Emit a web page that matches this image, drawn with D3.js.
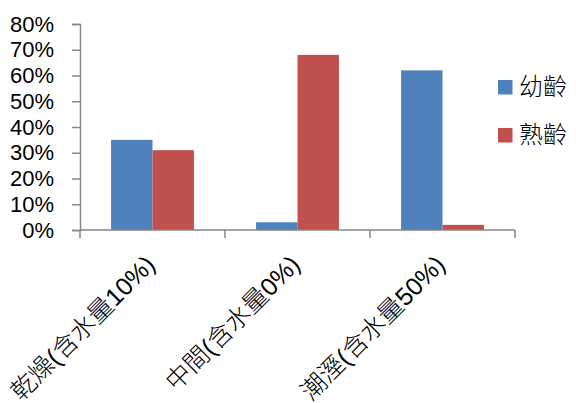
<!DOCTYPE html>
<html>
<head>
<meta charset="utf-8">
<script src="https://cdn.jsdelivr.net/npm/d3@7"></script>
<style>
  html, body { margin: 0; padding: 0; background: #fff; }
  svg { display: block; }
</style>
</head>
<body>
<svg id="chart" width="576" height="403"></svg>
<script>
// Moisture conditions and the share of each life stage found there
const categories = ["乾燥(含水量10%)", "中間(含水量0%)", "潮溼(含水量50%)"];
const seriesNames = ["幼齡", "熟齡"];
const juvenile = [0.35, 0.03, 0.62];
const mature = [0.31, 0.68, 0.02];
const yTicks = [0, 0.1, 0.2, 0.3, 0.4, 0.5, 0.6, 0.7, 0.8];
const colors = ["#4F81BD", "#C0504D"];

const svg = d3.select("#chart");
const plot = { left: 80, right: 515, top: 24, bottom: 230 };
const axisColor = "#868686";
const numFont = "'Liberation Sans', Arial, sans-serif";
const cjkFont = "'Liberation Sans', 'Noto Sans CJK TC', sans-serif";

const rows = categories.map((c, i) => ({ cat: c, values: [juvenile[i], mature[i]] }));

const x0 = d3.scaleBand().domain(categories).range([plot.left, plot.right]).paddingInner(0).paddingOuter(0);
// gap width 150%: two bars plus 1.5 bar widths of gap per category
const barW = x0.bandwidth() / 3.5;
const y = d3.scaleLinear().domain([0, 0.8]).range([plot.bottom, plot.top]);

// bars
rows.forEach(r => {
  const start = x0(r.cat) + (x0.bandwidth() - 2 * barW) / 2;
  svg.append("g").selectAll("rect")
    .data(r.values)
    .join("rect")
    .attr("x", (d, j) => start + j * barW)
    .attr("y", d => y(d))
    .attr("width", barW)
    .attr("height", d => y(0) - y(d))
    .attr("fill", (d, j) => colors[j]);
});

// y axis
const yAxis = d3.axisLeft(y).tickValues(yTicks).tickFormat(d3.format(".0%")).tickSize(8).tickPadding(18);
const gy = svg.append("g").attr("transform", `translate(${plot.left},0)`).call(yAxis);
gy.select(".domain").attr("stroke", axisColor).attr("stroke-width", 1.5);
gy.selectAll(".tick line").attr("stroke", axisColor).attr("stroke-width", 1.5);
gy.selectAll(".tick text").attr("font-family", numFont).attr("font-size", 22).attr("fill", "#000");

// x axis with ticks on category boundaries
const gx = svg.append("g").attr("transform", `translate(0,${plot.bottom})`);
gx.append("line").attr("x1", plot.left).attr("x2", plot.right).attr("stroke", axisColor).attr("stroke-width", 1.5);
const bounds = categories.map(c => x0(c)).concat([plot.right]);
gx.selectAll("line.tk").data(bounds).join("line").attr("class", "tk")
  .attr("x1", d => d).attr("x2", d => d).attr("y1", 0).attr("y2", 8)
  .attr("stroke", axisColor).attr("stroke-width", 1.5);

// rotated category labels
svg.append("g").selectAll("text")
  .data(categories)
  .join("text")
  .attr("transform", d => `translate(${x0(d) + x0.bandwidth() / 2 - 2},${plot.bottom + 30}) rotate(-45)`)
  .attr("text-anchor", "end")
  .attr("dy", "0.35em")
  .attr("font-family", cjkFont)
  .attr("font-size", 25)
  .attr("font-weight", 300)
  .attr("fill", "#000")
  .text(d => d);

// legend
const legend = svg.append("g").attr("transform", "translate(498,0)");
const ly = [87, 135];
seriesNames.forEach((n, i) => {
  legend.append("rect").attr("x", 0).attr("y", ly[i] - 7).attr("width", 14.5).attr("height", 14.5).attr("fill", colors[i]);
  legend.append("text").attr("x", 21).attr("y", ly[i]).attr("dy", "0.35em")
    .attr("font-family", cjkFont).attr("font-size", 24).attr("font-weight", 300).attr("fill", "#000").text(n);
});
</script>
</body>
</html>
